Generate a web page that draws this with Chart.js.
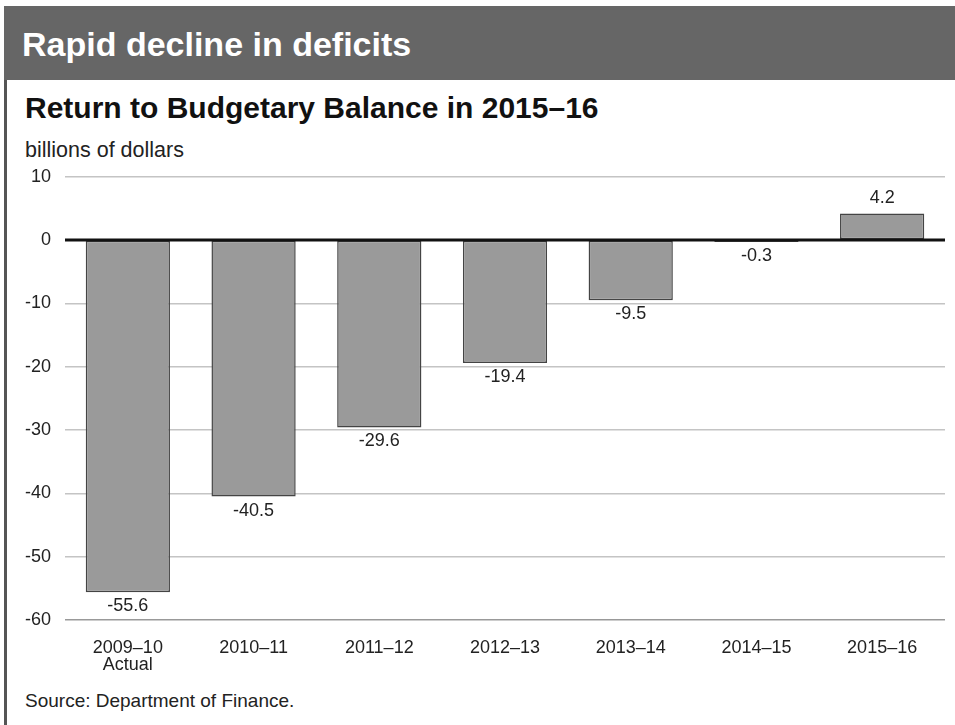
<!DOCTYPE html>
<html>
<head>
<meta charset="utf-8">
<script src="https://cdn.jsdelivr.net/npm/chart.js@4"></script>
<style>
  html, body { margin: 0; padding: 0; background: #fff; }
  body { width: 955px; height: 725px; position: relative; overflow: hidden; font-family: "Liberation Sans", Arial, sans-serif; }
  #header { position: absolute; left: 4px; top: 6px; width: 951px; height: 74px; background: #666; }
  #header span { position: absolute; left: 18px; top: 19px; color: #fff; font-weight: bold; font-size: 34px; line-height: 39px; }
  #leftborder { position: absolute; left: 4px; top: 80px; width: 3px; height: 645px; background: #555; }
  #title { position: absolute; left: 25px; top: 91px; font-weight: bold; font-size: 30px; color: #111; white-space: nowrap; }
  #subtitle { position: absolute; left: 25px; top: 138px; font-size: 21.5px; color: #222; white-space: nowrap; }
  #source { position: absolute; left: 25px; top: 690px; font-size: 19px; color: #222; white-space: nowrap; }
  #wrap { position: absolute; left: 8px; top: 152px; width: 947px; height: 528px; }
</style>
</head>
<body>
<div id="header"><span>Rapid decline in deficits</span></div>
<div id="leftborder"></div>
<div id="title">Return to Budgetary Balance in 2015–16</div>
<div id="subtitle">billions of dollars</div>
<div id="wrap"><canvas id="c"></canvas></div>
<div id="source">Source: Department of Finance.</div>
<script>
const categories = [["2009–10", "Actual"], "2010–11", "2011–12", "2012–13", "2013–14", "2014–15", "2015–16"];
const balances = [-55.6, -40.5, -29.6, -19.4, -9.5, -0.3, 4.2];
const valueLabels = ["-55.6", "-40.5", "-29.6", "-19.4", "-9.5", "-0.3", "4.2"];
const yTicks = [10, 0, -10, -20, -30, -40, -50, -60];

const FONT = '"Liberation Sans", Arial, sans-serif';

const valueLabelPlugin = {
  id: 'valueLabels',
  afterDatasetsDraw(chart) {
    const ctx = chart.ctx;
    const meta = chart.getDatasetMeta(0);
    const yScale = chart.scales.y;
    ctx.save();
    ctx.font = '18px ' + FONT;
    ctx.fillStyle = '#222';
    ctx.textAlign = 'center';
    ctx.textBaseline = 'middle';
    meta.data.forEach((bar, i) => {
      const v = balances[i];
      const y = v >= 0 ? bar.y - 15 : bar.y + 14;
      ctx.fillText(valueLabels[i], bar.x, y);
    });
    const y0 = yScale.getPixelForValue(0);
    ctx.strokeStyle = '#111';
    ctx.lineWidth = 3;
    ctx.beginPath();
    ctx.moveTo(chart.chartArea.left, y0);
    ctx.lineTo(chart.chartArea.right, y0);
    ctx.stroke();
    ctx.restore();
  }
};

new Chart(document.getElementById('c'), {
  type: 'bar',
  data: {
    labels: categories,
    datasets: [{
      data: balances,
      backgroundColor: '#9a9a9a',
      borderColor: '#444',
      borderWidth: 1.5,
      categoryPercentage: 1.0,
      barPercentage: 0.67,
      borderSkipped: false
    }]
  },
  options: {
    responsive: true,
    maintainAspectRatio: false,
    animation: false,
    layout: { padding: { top: 10, right: 10, left: 0, bottom: 0 } },
    plugins: { legend: { display: false }, tooltip: { enabled: false }, title: { display: false } },
    scales: {
      x: {
        grid: { display: false },
        border: { display: false },
        ticks: { color: '#222', font: { size: 18, family: FONT, lineHeight: 0.95 }, padding: 11, maxRotation: 0, autoSkip: false },
        afterFit(scale) { scale.height = 60; }
      },
      y: {
        min: -60, max: 10,
        afterBuildTicks(scale) { scale.ticks = yTicks.map(v => ({ value: v })); },
        grid: {
          color: ctx => (ctx.tick && ctx.tick.value === -60) ? '#999' : '#c4c4c4',
          lineWidth: 1.5,
          drawTicks: false
        },
        border: { display: false },
        ticks: { color: '#222', font: { size: 18, family: FONT }, padding: 14 },
        afterFit(scale) { scale.width = 57; }
      }
    }
  },
  plugins: [valueLabelPlugin]
});
</script>
</body>
</html>
